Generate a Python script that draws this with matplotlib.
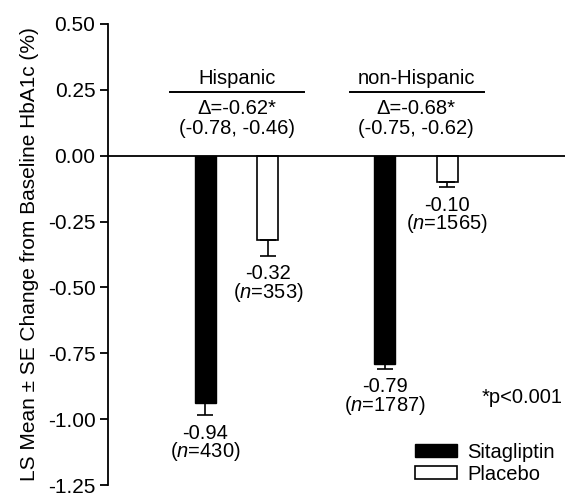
import numpy as np
import matplotlib
matplotlib.use("Agg")
from matplotlib import pyplot as plt

plt.rcParams['font.family'] = ['Liberation Sans', 'DejaVu Sans']
plt.rcParams['mathtext.fontset'] = 'custom'
plt.rcParams['mathtext.rm'] = 'Liberation Sans'
plt.rcParams['mathtext.it'] = 'Liberation Sans:italic'

groups = ["Hispanic", "non-Hispanic"]
deltas = ["\u0394=-0.62*", "\u0394=-0.68*"]
cis = ["(-0.78, -0.46)", "(-0.75, -0.62)"]
sita = [-0.94, -0.79]
sita_se = [0.045, 0.02]
sita_n = [430, 1787]
plac = [-0.32, -0.10]
plac_se = [0.06, 0.02]
plac_n = [353, 1565]

fs = 14.5

fig = plt.figure(figsize=(5.65, 4.97), dpi=100)
ax = fig.add_axes([0.191, 0.024, 0.809, 0.928])

x = np.arange(len(groups))
off = 0.174
w = 0.117

ax.bar(x - off, sita, w, color='black', edgecolor='black', linewidth=1, label='Sitagliptin')
ax.bar(x + off, plac, w, color='white', edgecolor='black', linewidth=1.2, label='Placebo')
ax.errorbar(x - off, sita, yerr=[sita_se, [0] * 2], fmt='none', ecolor='black', elinewidth=1.2, capsize=6, capthick=1.2)
ax.errorbar(x + off, plac, yerr=[plac_se, [0] * 2], fmt='none', ecolor='black', elinewidth=1.2, capsize=6, capthick=1.2)

ax.axhline(0, color='black', linewidth=1.3)

for i in range(len(groups)):
    for xv, v, se, n in [(x[i] - off, sita[i], sita_se[i], sita_n[i]),
                         (x[i] + off, plac[i], plac_se[i], plac_n[i])]:
        ax.annotate("%.2f\n($\\mathit{n}$=%d)" % (v, n), (xv, v - se), xytext=(0, -6),
                    textcoords='offset points', ha='center', va='top', fontsize=fs,
                    linespacing=0.85)
    c = x[i] + 0.002 * i
    ax.text(c, 0.272, groups[i], ha='center', va='baseline', fontsize=fs)
    ax.plot([c - 0.372, c + 0.375], [0.242, 0.242], color='black', linewidth=1.4, clip_on=False)
    ax.text(c, 0.14, deltas[i] + "\n" + cis[i], ha='center', va='center', fontsize=fs,
            linespacing=1.05)

ax.text(1.815, -0.918, "*p<0.001", ha='right', va='center', fontsize=fs)

ax.set_xlim(-0.718, 1.831)
ax.set_ylim(-1.25, 0.5)
ax.set_yticks(np.arange(-1.25, 0.51, 0.25))
ax.set_yticklabels(["%.2f" % t for t in np.arange(-1.25, 0.51, 0.25)], fontsize=fs + 0.5)
ax.set_xticks([])
ax.set_ylabel("LS Mean \u00b1 SE Change from Baseline HbA1c (%)", fontsize=15, labelpad=6)
ax.spines['top'].set_visible(False)
ax.spines['right'].set_visible(False)
ax.spines['bottom'].set_visible(False)
ax.spines['left'].set_linewidth(1.3)
ax.tick_params(axis='y', width=1.3, length=6, pad=3)

ax.legend(loc='upper left', bbox_to_anchor=(0.672, 0.092), frameon=False, fontsize=fs,
          handlelength=2.1, handleheight=0.6, labelspacing=0.15, handletextpad=0.5,
          borderpad=0, borderaxespad=0)

fig.savefig("out.png", dpi=100)
